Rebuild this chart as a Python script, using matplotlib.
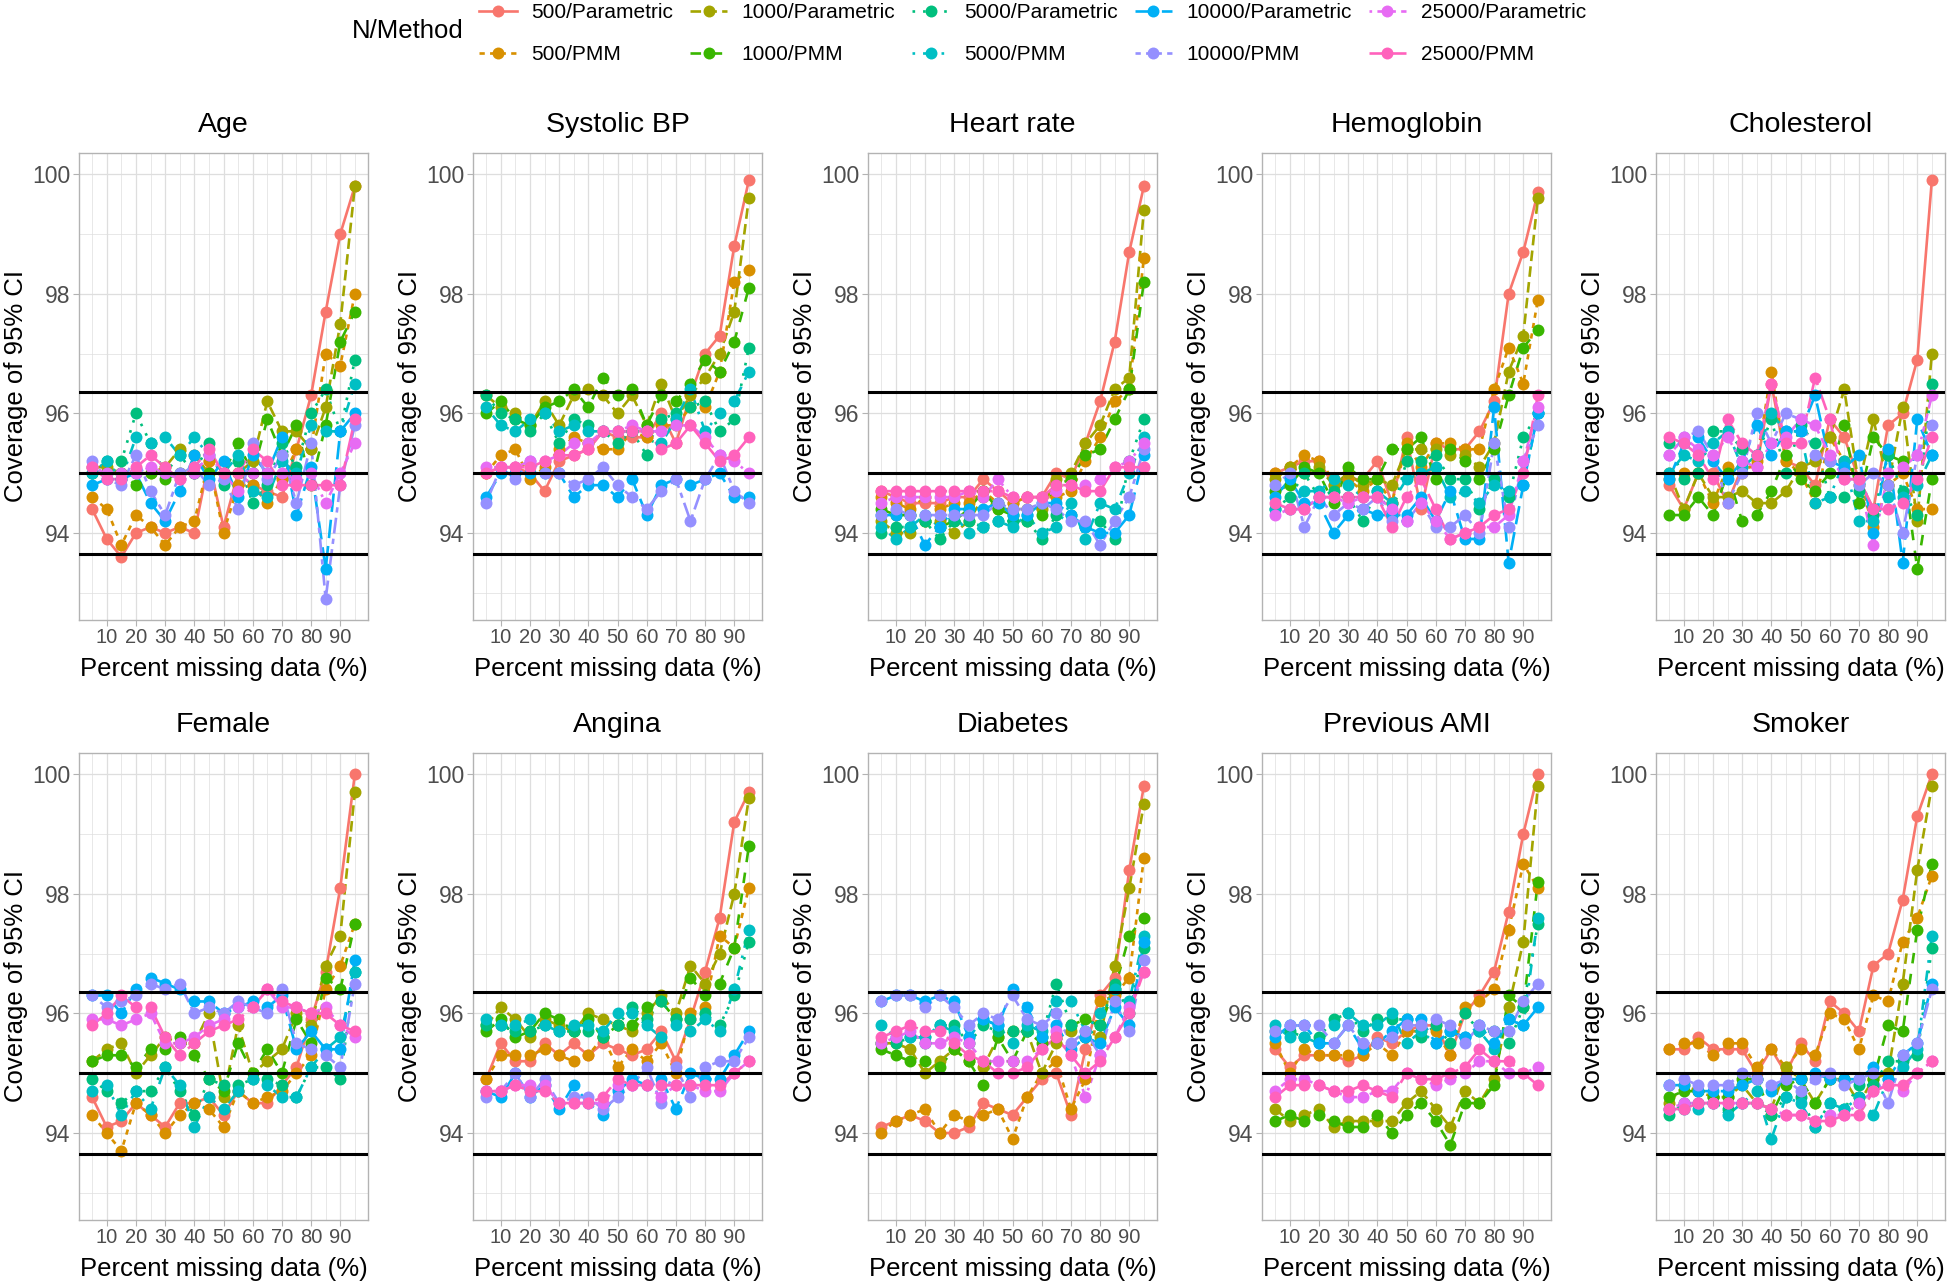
import matplotlib
matplotlib.use("Agg")
import matplotlib.pyplot as plt
from matplotlib.lines import Line2D

plt.rcParams['font.family'] = ['Liberation Sans', 'DejaVu Sans']

# ---------------- data ----------------
missing_pct = [5, 10, 15, 20, 25, 30, 35, 40, 45, 50, 55, 60, 65, 70, 75, 80, 85, 90, 95]
x_tick_labels = [10, 20, 30, 40, 50, 60, 70, 80, 90]
y_tick_labels = [94, 96, 98, 100]
reference_lines = [93.65, 95.0, 96.35]

series_labels = ["500/Parametric", "500/PMM", "1000/Parametric", "1000/PMM",
                 "5000/Parametric", "5000/PMM", "10000/Parametric", "10000/PMM",
                 "25000/Parametric", "25000/PMM"]

panel_titles = ["Age", "Systolic BP", "Heart rate", "Hemoglobin", "Cholesterol",
                "Female", "Angina", "Diabetes", "Previous AMI", "Smoker"]

# rows follow series_labels order; columns follow missing_pct
age = [
    [94.4, 93.9, 93.6, 94.0, 94.1, 94.0, 94.1, 94.0, 95.2, 94.1, 95.0, 94.8, 94.7, 94.6, 95.4, 96.3, 97.7, 99.0, 99.8],
    [94.6, 94.4, 93.8, 94.3, 94.1, 93.8, 94.1, 94.2, 95.2, 94.0, 94.8, 94.8, 94.5, 94.9, 95.4, 95.4, 97.0, 96.8, 98.0],
    [95.1, 95.1, 95.0, 95.0, 95.0, 95.1, 95.4, 95.3, 95.0, 95.0, 95.0, 95.2, 96.2, 95.7, 95.7, 95.4, 96.1, 97.5, 99.8],
    [95.0, 95.0, 95.0, 94.8, 95.0, 94.9, 95.0, 95.0, 95.0, 95.0, 95.5, 95.0, 95.9, 95.3, 95.8, 94.8, 95.8, 97.2, 97.7],
    [95.0, 95.2, 95.2, 96.0, 95.5, 95.0, 95.3, 95.0, 95.5, 94.8, 95.2, 94.5, 94.8, 95.5, 95.1, 96.0, 96.4, 95.7, 96.9],
    [95.0, 95.2, 94.9, 95.6, 95.5, 95.6, 95.3, 95.6, 95.3, 95.0, 95.3, 94.7, 94.6, 95.2, 95.0, 95.8, 95.7, 95.7, 96.5],
    [94.8, 94.9, 94.9, 95.0, 94.5, 94.2, 94.7, 95.3, 94.9, 95.2, 94.6, 95.3, 95.0, 95.6, 94.3, 95.1, 93.4, 95.7, 96.0],
    [95.2, 94.9, 94.8, 95.3, 94.7, 94.3, 95.0, 95.1, 94.8, 94.9, 94.4, 95.5, 94.9, 95.3, 94.5, 95.5, 92.9, 94.8, 95.8],
    [95.1, 95.0, 95.0, 95.0, 95.1, 95.0, 94.9, 95.0, 95.3, 95.0, 94.7, 95.0, 95.0, 95.0, 94.9, 95.0, 94.5, 95.0, 95.5],
    [95.1, 94.9, 94.9, 95.1, 95.3, 95.1, 94.9, 95.1, 95.4, 95.0, 95.0, 95.4, 95.2, 94.8, 94.8, 94.8, 94.8, 94.8, 95.9],
]
systolic_bp = [
    [95.0, 95.1, 95.1, 95.0, 94.7, 95.2, 95.3, 95.4, 95.7, 95.6, 95.6, 95.6, 96.0, 95.5, 96.3, 97.0, 97.3, 98.8, 99.9],
    [95.0, 95.3, 95.4, 94.9, 95.1, 95.4, 95.6, 95.5, 95.4, 95.4, 95.7, 95.6, 95.8, 95.8, 96.1, 96.1, 96.7, 98.2, 98.4],
    [96.3, 96.1, 96.0, 95.8, 96.2, 95.8, 96.3, 96.4, 96.3, 96.0, 96.3, 95.8, 96.5, 95.9, 96.3, 96.6, 97.0, 97.7, 99.6],
    [96.0, 96.2, 95.9, 95.8, 96.1, 96.2, 96.4, 96.1, 96.6, 96.3, 96.4, 95.8, 96.3, 96.2, 96.5, 96.9, 96.7, 97.2, 98.1],
    [96.3, 96.0, 95.9, 95.7, 96.0, 95.5, 95.9, 95.8, 95.7, 95.5, 95.7, 95.3, 95.9, 96.0, 96.1, 96.2, 95.7, 95.9, 97.1],
    [96.1, 95.8, 95.7, 95.9, 96.0, 95.7, 95.8, 95.7, 95.7, 95.7, 95.7, 95.7, 95.5, 95.9, 96.4, 95.7, 96.0, 96.2, 96.7],
    [94.6, 95.0, 95.0, 95.0, 95.0, 95.0, 94.6, 94.8, 94.8, 94.6, 94.9, 94.3, 94.8, 94.9, 94.8, 94.9, 95.0, 94.6, 94.6],
    [94.5, 95.1, 94.9, 95.2, 95.0, 95.0, 94.8, 94.9, 95.1, 94.8, 94.6, 94.4, 94.7, 94.9, 94.2, 94.9, 95.3, 94.7, 94.5],
    [95.1, 95.1, 95.1, 95.2, 95.2, 95.3, 95.5, 95.5, 95.7, 95.7, 95.8, 95.7, 95.7, 95.8, 95.8, 95.6, 95.3, 95.2, 95.0],
    [95.0, 95.1, 95.1, 95.1, 95.2, 95.3, 95.3, 95.4, 95.7, 95.7, 95.7, 95.7, 95.4, 95.5, 95.8, 95.5, 95.2, 95.3, 95.6],
]
heart_rate = [
    [94.7, 94.6, 94.5, 94.5, 94.5, 94.6, 94.6, 94.9, 94.7, 94.5, 94.6, 94.6, 95.0, 94.9, 95.5, 96.2, 97.2, 98.7, 99.8],
    [94.6, 94.5, 94.4, 94.6, 94.4, 94.5, 94.5, 94.7, 94.5, 94.5, 94.6, 94.6, 94.6, 94.7, 95.2, 95.6, 96.2, 96.4, 98.6],
    [94.2, 94.0, 94.0, 94.2, 94.2, 94.0, 94.2, 94.6, 94.4, 94.4, 94.4, 94.4, 94.9, 95.0, 95.5, 95.8, 96.4, 96.6, 99.4],
    [94.4, 94.3, 94.3, 94.2, 94.1, 94.2, 94.4, 94.7, 94.4, 94.3, 94.2, 94.3, 94.8, 94.9, 95.3, 95.4, 95.9, 96.4, 98.2],
    [94.0, 94.1, 94.1, 94.2, 93.9, 94.2, 94.2, 94.1, 94.2, 94.2, 94.2, 93.9, 94.3, 94.3, 94.1, 94.2, 93.9, 95.2, 95.9],
    [94.1, 93.9, 94.1, 94.3, 94.1, 94.3, 94.0, 94.1, 94.2, 94.1, 94.3, 94.0, 94.1, 94.5, 93.9, 94.5, 94.4, 95.0, 95.6],
    [94.3, 94.3, 94.3, 93.8, 94.1, 94.4, 94.4, 94.4, 94.5, 94.3, 94.3, 94.5, 94.5, 94.3, 94.1, 94.0, 94.0, 94.3, 95.3],
    [94.3, 94.4, 94.3, 94.3, 94.3, 94.3, 94.3, 94.3, 94.5, 94.4, 94.4, 94.5, 94.4, 94.2, 94.2, 93.8, 94.2, 94.6, 95.4],
    [94.5, 94.6, 94.6, 94.6, 94.6, 94.6, 94.7, 94.6, 94.9, 94.6, 94.6, 94.6, 94.7, 94.8, 94.8, 94.9, 95.1, 95.2, 95.5],
    [94.7, 94.7, 94.7, 94.7, 94.7, 94.7, 94.7, 94.7, 94.7, 94.6, 94.6, 94.6, 94.8, 94.8, 94.7, 94.7, 95.1, 95.1, 95.1],
]
hemoglobin = [
    [95.0, 95.1, 95.2, 95.2, 94.8, 94.9, 94.9, 95.2, 94.5, 95.6, 94.4, 95.5, 95.4, 95.4, 95.7, 96.2, 98.0, 98.7, 99.7],
    [95.0, 95.1, 95.3, 95.2, 94.9, 94.9, 94.7, 94.9, 94.5, 95.5, 95.1, 95.5, 95.5, 95.4, 95.4, 96.4, 97.1, 96.5, 97.9],
    [94.9, 95.1, 95.0, 95.1, 94.8, 95.0, 94.8, 94.9, 94.8, 95.4, 95.4, 95.4, 95.3, 95.3, 95.1, 95.5, 96.7, 97.3, 99.6],
    [94.7, 94.8, 95.1, 95.0, 94.5, 95.1, 94.9, 94.9, 95.4, 95.4, 95.6, 94.9, 95.4, 95.2, 94.9, 95.4, 96.3, 97.1, 97.4],
    [94.4, 94.6, 95.0, 94.6, 94.7, 94.6, 94.2, 94.7, 94.3, 95.2, 95.2, 95.3, 94.9, 94.9, 94.4, 94.9, 94.6, 95.6, 96.0],
    [94.4, 94.4, 94.7, 94.7, 94.9, 94.8, 94.6, 94.7, 94.5, 94.9, 95.0, 95.1, 94.6, 94.7, 94.5, 94.8, 94.7, 94.8, 96.0],
    [94.6, 94.9, 94.5, 94.5, 94.0, 94.3, 94.4, 94.3, 94.3, 94.3, 94.6, 94.2, 94.7, 93.9, 93.9, 96.1, 93.5, 94.8, 96.0],
    [94.8, 95.0, 94.1, 94.6, 94.3, 94.5, 94.4, 94.6, 94.2, 94.2, 94.5, 94.1, 94.1, 94.3, 94.0, 95.5, 94.1, 95.2, 95.8],
    [94.3, 94.4, 94.4, 94.6, 94.6, 94.5, 94.6, 94.6, 94.4, 94.2, 94.5, 94.2, 93.9, 94.0, 94.1, 94.1, 94.3, 95.2, 96.1],
    [94.5, 94.4, 94.4, 94.6, 94.6, 94.6, 94.6, 94.6, 94.1, 94.6, 94.9, 94.4, 93.9, 94.0, 94.1, 94.3, 94.4, 95.0, 96.3],
]
cholesterol = [
    [94.8, 94.4, 95.0, 95.0, 94.5, 95.1, 95.1, 96.5, 95.2, 95.1, 94.8, 95.9, 95.6, 94.9, 94.4, 95.8, 96.0, 96.9, 99.9],
    [94.9, 95.0, 95.0, 94.5, 95.1, 95.0, 95.2, 96.7, 95.2, 95.0, 94.5, 95.6, 95.2, 94.9, 94.1, 94.8, 95.0, 94.4, 94.4],
    [95.0, 94.4, 95.0, 94.6, 94.6, 94.7, 94.5, 94.5, 94.7, 95.1, 95.2, 95.6, 96.4, 94.8, 95.9, 94.8, 96.1, 94.2, 97.0],
    [94.3, 94.3, 94.6, 94.3, 95.0, 94.2, 94.3, 94.7, 95.3, 94.9, 94.7, 95.0, 95.8, 94.5, 95.6, 95.3, 95.2, 93.4, 94.9],
    [95.5, 94.9, 95.0, 95.7, 95.7, 95.4, 95.3, 95.9, 95.0, 95.8, 95.5, 94.6, 94.6, 94.7, 94.3, 95.3, 94.7, 94.3, 96.5],
    [95.0, 95.3, 95.2, 95.5, 95.7, 95.1, 95.3, 96.0, 95.7, 95.7, 94.5, 94.6, 95.2, 94.2, 94.2, 94.6, 94.6, 94.8, 95.3],
    [94.9, 95.5, 95.6, 95.2, 94.9, 95.2, 95.8, 95.3, 95.7, 95.7, 96.3, 95.2, 95.1, 95.3, 94.0, 95.4, 93.5, 95.9, 95.3],
    [95.3, 95.6, 95.7, 95.3, 94.5, 95.0, 96.0, 95.5, 96.0, 95.9, 95.3, 95.2, 95.0, 94.8, 95.0, 94.8, 94.0, 95.3, 95.8],
    [95.3, 95.6, 95.4, 95.3, 95.6, 95.2, 95.1, 95.5, 95.6, 95.9, 95.8, 95.3, 94.9, 94.9, 93.8, 95.0, 95.1, 95.3, 96.3],
    [95.6, 95.5, 95.3, 94.9, 95.9, 95.5, 95.3, 96.5, 95.5, 95.5, 96.6, 95.9, 94.9, 94.9, 94.4, 94.4, 94.5, 94.9, 95.6],
]
female = [
    [94.6, 94.1, 94.2, 94.5, 94.3, 94.1, 94.5, 94.5, 94.6, 94.3, 94.7, 94.5, 94.5, 94.8, 95.1, 95.9, 96.7, 98.1, 100.0],
    [94.3, 94.0, 93.7, 94.5, 94.3, 94.0, 94.3, 94.5, 94.4, 94.1, 94.7, 94.5, 94.6, 94.7, 95.0, 95.3, 96.4, 96.8, 97.5],
    [95.2, 95.4, 95.5, 95.0, 95.3, 95.6, 95.5, 95.5, 96.0, 94.6, 95.8, 95.0, 95.2, 95.4, 96.0, 95.8, 96.8, 97.3, 99.7],
    [95.2, 95.3, 95.3, 95.1, 95.4, 95.4, 95.6, 95.3, 94.9, 94.7, 95.5, 95.0, 95.4, 95.0, 95.9, 95.5, 96.6, 96.4, 97.5],
    [94.9, 94.7, 94.5, 94.7, 94.7, 95.1, 94.7, 94.3, 94.9, 94.8, 94.8, 94.9, 94.9, 94.8, 94.6, 95.1, 95.1, 94.9, 96.7],
    [94.7, 94.8, 94.3, 94.7, 94.4, 95.1, 94.8, 94.1, 94.6, 94.4, 94.7, 94.9, 94.8, 94.6, 94.6, 95.1, 95.4, 95.6, 96.7],
    [96.3, 96.3, 96.0, 96.4, 96.6, 96.5, 96.4, 96.2, 96.2, 96.0, 96.1, 96.2, 96.1, 96.3, 95.4, 95.7, 95.4, 95.4, 96.9],
    [96.3, 96.1, 96.2, 96.3, 96.5, 96.4, 96.5, 96.0, 96.1, 96.0, 96.2, 96.1, 96.0, 96.4, 95.5, 95.4, 95.3, 95.1, 96.5],
    [95.9, 95.9, 95.8, 95.9, 96.0, 95.5, 95.5, 95.6, 95.8, 95.9, 96.1, 96.1, 96.4, 96.1, 96.1, 96.0, 96.1, 95.8, 95.6],
    [95.8, 96.0, 96.3, 96.1, 96.1, 95.6, 95.3, 95.5, 95.7, 95.8, 95.9, 96.1, 96.4, 96.2, 96.1, 96.0, 96.0, 95.8, 95.7],
]
angina = [
    [94.9, 95.5, 95.2, 95.2, 95.5, 95.3, 95.5, 95.3, 95.5, 95.4, 95.3, 95.4, 95.7, 95.2, 95.9, 96.7, 97.6, 99.2, 99.7],
    [94.9, 95.3, 95.3, 95.3, 95.4, 95.3, 95.2, 95.3, 95.6, 95.1, 95.4, 95.2, 95.5, 95.0, 96.0, 96.1, 97.3, 97.1, 98.1],
    [95.8, 96.1, 95.9, 95.6, 95.9, 95.8, 95.7, 96.0, 95.9, 95.8, 95.7, 96.0, 96.3, 96.0, 96.8, 96.5, 97.0, 98.0, 99.6],
    [95.7, 95.9, 95.6, 95.7, 96.0, 95.9, 95.7, 95.9, 95.6, 95.8, 95.8, 96.1, 96.2, 95.9, 96.6, 96.3, 96.5, 97.1, 98.8],
    [95.8, 95.8, 95.7, 95.7, 95.8, 95.7, 95.7, 95.7, 95.6, 95.8, 96.1, 95.9, 96.2, 95.9, 95.9, 96.0, 95.8, 96.3, 97.2],
    [95.9, 95.8, 95.8, 95.9, 95.8, 95.7, 95.8, 95.8, 95.7, 96.0, 96.0, 95.8, 95.6, 95.8, 95.7, 95.9, 95.7, 96.4, 97.4],
    [94.7, 94.6, 95.0, 94.6, 94.8, 94.4, 94.8, 94.5, 94.3, 94.7, 94.9, 94.8, 94.9, 94.4, 95.0, 94.9, 94.9, 95.3, 95.7],
    [94.6, 94.7, 95.0, 94.6, 94.9, 94.5, 94.6, 94.6, 94.4, 94.6, 94.8, 95.1, 94.5, 95.1, 94.6, 95.1, 95.2, 95.2, 95.6],
    [94.7, 94.7, 94.8, 94.8, 94.8, 94.5, 94.5, 94.5, 94.5, 94.8, 94.8, 94.8, 94.6, 94.8, 94.8, 94.7, 94.7, 95.0, 95.2],
    [94.7, 94.7, 94.8, 94.7, 94.7, 94.5, 94.5, 94.5, 94.6, 94.9, 94.8, 94.8, 94.8, 94.8, 94.8, 94.8, 94.8, 95.0, 95.2],
]
diabetes = [
    [94.1, 94.2, 94.3, 94.2, 94.0, 94.0, 94.1, 94.5, 94.4, 94.3, 94.6, 94.9, 95.0, 94.3, 95.4, 96.3, 96.6, 98.4, 99.8],
    [94.0, 94.2, 94.3, 94.4, 94.0, 94.3, 94.2, 94.3, 94.4, 93.9, 94.6, 95.0, 95.2, 94.4, 94.9, 96.2, 96.3, 96.6, 98.6],
    [95.5, 95.5, 95.4, 95.0, 95.2, 95.4, 95.2, 95.1, 95.6, 95.7, 95.7, 95.0, 95.5, 95.7, 95.6, 95.6, 96.8, 98.1, 99.5],
    [95.4, 95.3, 95.2, 95.2, 95.1, 95.4, 95.2, 94.8, 95.6, 95.2, 95.7, 95.5, 95.6, 95.8, 95.9, 95.8, 96.4, 97.3, 97.6],
    [95.5, 95.5, 95.6, 95.5, 95.8, 95.8, 95.5, 95.8, 95.7, 95.7, 95.7, 95.6, 96.5, 95.8, 95.6, 95.8, 96.5, 96.0, 97.1],
    [95.8, 95.6, 95.6, 95.6, 95.8, 95.7, 95.6, 95.9, 95.8, 95.5, 95.8, 95.7, 96.2, 96.2, 95.7, 96.0, 96.4, 96.2, 97.3],
    [96.2, 96.3, 96.3, 96.2, 96.3, 96.2, 95.6, 95.9, 95.8, 96.4, 96.1, 95.6, 95.8, 95.4, 95.6, 95.5, 96.1, 95.8, 97.2],
    [96.2, 96.3, 96.3, 96.1, 96.3, 96.1, 95.8, 96.0, 95.9, 96.3, 95.9, 95.8, 96.0, 95.5, 95.7, 95.3, 96.2, 95.7, 96.9],
    [95.5, 95.6, 95.7, 95.5, 95.5, 95.6, 95.5, 95.2, 95.2, 95.2, 95.2, 95.4, 95.7, 95.3, 94.6, 95.3, 95.6, 96.1, 96.7],
    [95.6, 95.7, 95.8, 95.7, 95.7, 95.5, 95.3, 95.2, 95.0, 95.0, 95.1, 95.4, 95.6, 95.3, 95.0, 95.2, 95.6, 96.0, 96.7],
]
previous_ami = [
    [95.4, 95.1, 95.3, 95.3, 95.3, 95.2, 95.3, 95.6, 95.5, 95.7, 95.8, 95.8, 95.3, 96.0, 96.3, 96.7, 97.7, 99.0, 100.0],
    [95.5, 95.0, 95.4, 95.3, 95.3, 95.3, 95.3, 95.5, 95.3, 95.7, 95.7, 95.7, 95.3, 96.1, 96.2, 96.4, 97.4, 98.5, 98.1],
    [94.4, 94.2, 94.3, 94.4, 94.1, 94.2, 94.2, 94.2, 94.2, 94.5, 94.7, 94.4, 94.1, 94.7, 94.5, 94.9, 96.1, 97.2, 99.8],
    [94.2, 94.3, 94.2, 94.3, 94.2, 94.1, 94.1, 94.3, 94.0, 94.3, 94.5, 94.2, 93.8, 94.5, 94.5, 94.8, 96.3, 96.1, 98.2],
    [95.7, 95.7, 95.6, 95.6, 95.9, 96.0, 95.7, 95.9, 95.9, 95.9, 95.6, 95.8, 95.5, 96.0, 95.7, 95.7, 95.5, 96.1, 97.5],
    [95.8, 95.6, 95.6, 95.5, 95.8, 96.0, 95.8, 95.8, 96.0, 95.5, 95.7, 95.5, 95.7, 95.6, 95.7, 95.4, 95.9, 95.8, 97.6],
    [95.6, 95.8, 95.8, 95.5, 95.5, 95.8, 95.4, 95.5, 95.7, 95.9, 95.9, 95.5, 95.7, 95.6, 95.8, 95.5, 95.9, 95.8, 96.1],
    [95.7, 95.8, 95.8, 95.8, 95.5, 95.8, 95.5, 95.5, 95.6, 95.8, 95.8, 95.9, 95.8, 95.5, 95.8, 95.7, 95.7, 96.2, 96.5],
    [94.7, 94.9, 94.9, 94.8, 94.7, 94.6, 94.6, 94.7, 94.7, 95.0, 94.9, 94.8, 94.9, 95.0, 95.2, 95.2, 95.0, 95.0, 95.1],
    [94.6, 94.8, 94.8, 94.8, 94.7, 94.7, 94.8, 94.7, 94.6, 95.0, 94.9, 94.9, 95.0, 95.1, 95.4, 95.2, 95.2, 95.0, 94.8],
]
smoker = [
    [95.4, 95.4, 95.6, 95.4, 95.4, 95.4, 95.0, 95.4, 95.0, 95.5, 95.2, 96.2, 96.0, 95.7, 96.8, 97.0, 97.9, 99.3, 100.0],
    [95.4, 95.5, 95.5, 95.3, 95.5, 95.5, 95.1, 95.4, 95.1, 95.4, 95.3, 96.0, 95.9, 95.4, 96.3, 96.2, 97.2, 97.6, 98.3],
    [94.5, 94.8, 94.7, 94.6, 94.6, 94.8, 94.5, 94.4, 95.1, 94.9, 94.5, 94.9, 94.9, 94.5, 94.9, 95.0, 96.5, 98.4, 99.8],
    [94.6, 94.7, 94.7, 94.6, 94.6, 94.9, 94.9, 94.3, 94.8, 94.9, 94.5, 94.9, 94.9, 94.6, 94.9, 95.8, 95.7, 97.4, 98.5],
    [94.3, 94.5, 94.5, 94.5, 94.4, 94.5, 94.5, 94.3, 94.6, 94.6, 94.1, 94.5, 94.4, 94.8, 94.8, 95.2, 95.2, 95.3, 97.1],
    [94.4, 94.4, 94.4, 94.5, 94.3, 94.5, 94.7, 93.9, 94.6, 94.5, 94.1, 94.5, 94.4, 94.6, 94.3, 94.9, 95.1, 95.4, 97.3],
    [94.8, 94.8, 94.7, 94.7, 94.7, 94.8, 94.9, 94.7, 94.9, 94.9, 95.0, 94.9, 94.9, 94.9, 95.1, 94.9, 95.3, 95.5, 96.5],
    [94.8, 94.9, 94.8, 94.8, 94.8, 95.0, 94.9, 94.8, 94.9, 94.7, 94.9, 95.0, 94.8, 94.9, 95.0, 94.5, 95.3, 95.5, 96.4],
    [94.4, 94.5, 94.5, 94.5, 94.5, 94.5, 94.5, 94.4, 94.3, 94.3, 94.2, 94.3, 94.3, 94.5, 94.7, 94.8, 94.7, 95.0, 95.2],
    [94.4, 94.4, 94.5, 94.5, 94.5, 94.5, 94.5, 94.4, 94.3, 94.3, 94.2, 94.2, 94.3, 94.3, 94.7, 94.8, 94.8, 95.0, 95.2],
]

panels = [age, systolic_bp, heart_rate, hemoglobin, cholesterol,
          female, angina, diabetes, previous_ami, smoker]

# ---------------- styles ----------------
colors = ["#F8766D", "#D89000", "#A3A500", "#39B600", "#00BF7D",
          "#00BFC4", "#00B0F6", "#9590FF", "#E76BF3", "#FF62BC"]
linestyles = ["-", (0, (2, 2)), (0, (4, 2)), (0, (4, 4)), (0, (1, 3)),
              (0, (1, 3, 4, 3)), (0, (7, 3)), (0, (2, 2, 6, 2)),
              (0, (1, 2, 2, 2, 3, 2, 4, 2)), (0, (15, 2, 8, 2))]

W, H = 1952, 1284
fig = plt.figure(figsize=(W / 100, H / 100), dpi=100)

col_left = [79, 473, 868, 1262, 1656]
row_top = [153, 753]
pw, ph = 289, 467

grid_col = "#DEDEDE"
border_col = "#B3B3B3"
tick_col = "#4D4D4D"
LW = 1.9
MS = 8.6

for i, data in enumerate(panels):
    r, c = divmod(i, 5)
    left = col_left[c] / W
    bottom = 1 - (row_top[r] + ph) / H
    ax = fig.add_axes([left, bottom, pw / W, ph / H])
    ax.set_xlim(0.5, 99.5)
    ax.set_ylim(92.545, 100.355)

    # grid
    for xv in range(5, 100, 5):
        ax.axvline(xv, color=grid_col, lw=(0.9 if xv % 10 == 0 else 0.5), zorder=0)
    for yv in [93, 94, 95, 96, 97, 98, 99, 100]:
        ax.axhline(yv, color=grid_col, lw=(0.9 if yv % 2 == 0 else 0.5), zorder=0)

    for k, vals in enumerate(data):
        ax.plot(missing_pct, vals, color=colors[k], linestyle=linestyles[k],
                lw=LW, zorder=2, solid_capstyle='butt', dash_capstyle='butt')
    for k, vals in enumerate(data):
        ax.plot(missing_pct, vals, linestyle='none', marker='o', ms=MS,
                color=colors[k], markeredgewidth=0, zorder=3)

    for yv in reference_lines:
        ax.axhline(yv, color='black', lw=2.2, zorder=4)

    ax.set_xticks(x_tick_labels)
    ax.set_xticklabels([str(v) for v in x_tick_labels])
    ax.set_yticks(y_tick_labels)
    ax.set_yticklabels([str(v) for v in y_tick_labels])
    ax.tick_params(axis='x', labelsize=14.5, colors=border_col, labelcolor=tick_col,
                   length=4, width=0.8, pad=2)
    ax.tick_params(axis='y', labelsize=16.5, colors=border_col, labelcolor=tick_col,
                   length=4, width=0.8, pad=2)
    for sp in ax.spines.values():
        sp.set_color(border_col)
        sp.set_linewidth(1.0)
    ax.set_xlabel("Percent missing data (%)", fontsize=18.5, color='black', labelpad=7)
    ax.set_ylabel("Coverage of 95% CI", fontsize=18.5, color='black', labelpad=3)
    ax.set_title(panel_titles[i], fontsize=20.5, color='black', pad=15)

# legend
handles = [Line2D([0], [0], color=colors[k], linestyle=linestyles[k], lw=LW,
                  marker='o', ms=MS, markeredgewidth=0)
           for k in range(len(series_labels))]
fig.legend(handles, series_labels, ncol=5, loc='upper left',
           bbox_to_anchor=(476 / W, 1 - 0 / H), frameon=False, fontsize=15,
           handlelength=1.8, handletextpad=0.7, columnspacing=0.8,
           labelspacing=1.1, borderpad=0.15, borderaxespad=0)
fig.text(352 / W, 1 - 31 / H, "N/Method", fontsize=18.5, ha='left', va='center')

fig.savefig("out.png", dpi=100)
